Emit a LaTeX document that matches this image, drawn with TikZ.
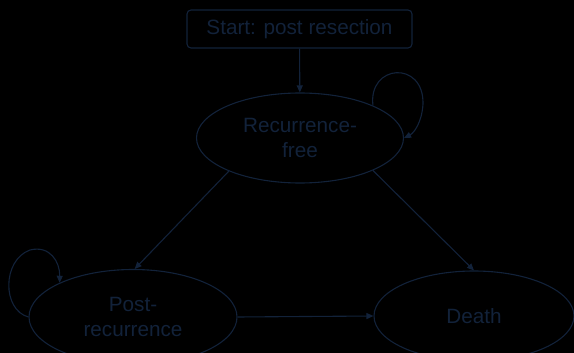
\documentclass[tikz,border=0pt]{standalone}
\usepackage{fontspec}
\setmainfont{Liberation Sans}
\usetikzlibrary{shapes.geometric,arrows.meta}
\definecolor{ink}{HTML}{12223A}
\begin{document}
\begin{tikzpicture}[x=1pt,y=-1pt,
  state/.style={ellipse,draw=ink,line width=1.1pt,inner sep=0pt,text=ink,
     font=\fontsize{20.7}{25}\selectfont,align=center},
  startbox/.style={draw=ink,line width=1.1pt,rounded corners=4pt,inner sep=0pt,
     minimum width=225pt,minimum height=38pt,text=ink,font=\fontsize{20.7}{25}\selectfont},
  conn/.style={draw=ink,line width=1.1pt,-{Triangle[length=7pt,width=6pt]}}]
\useasboundingbox (0,0) rectangle (574,353);
\fill[black] (0,0) rectangle (574,353);
\clip (0,0) rectangle (574,353);
\node[startbox] (s) at (299.5,29) {Start: post resection};
\node[state,minimum width=207pt,minimum height=90pt] (rf) at (300,138) {Recurrence-\\free};
\node[state,minimum width=208pt,minimum height=95pt] (pr) at (133,317) {Post-\\recurrence};
\node[state,minimum width=200pt,minimum height=90pt] (d) at (474,316) {Death};
\draw[conn] (s) -- (rf);
\draw[conn] (rf.205) -- (pr.88);
\draw[conn] (rf.336) -- (d.north);
\draw[conn] (pr.east) -- (d.west);
\draw[conn] (rf.24) .. controls (368,64) and (424,60) .. (423,104) .. controls (422,122) and (414,133) .. (rf.east);
\draw[conn] (pr.west) .. controls (2,310) and (2,260) .. (30,250) .. controls (50,245) and (60,262) .. (pr.155);
\end{tikzpicture}
\end{document}
